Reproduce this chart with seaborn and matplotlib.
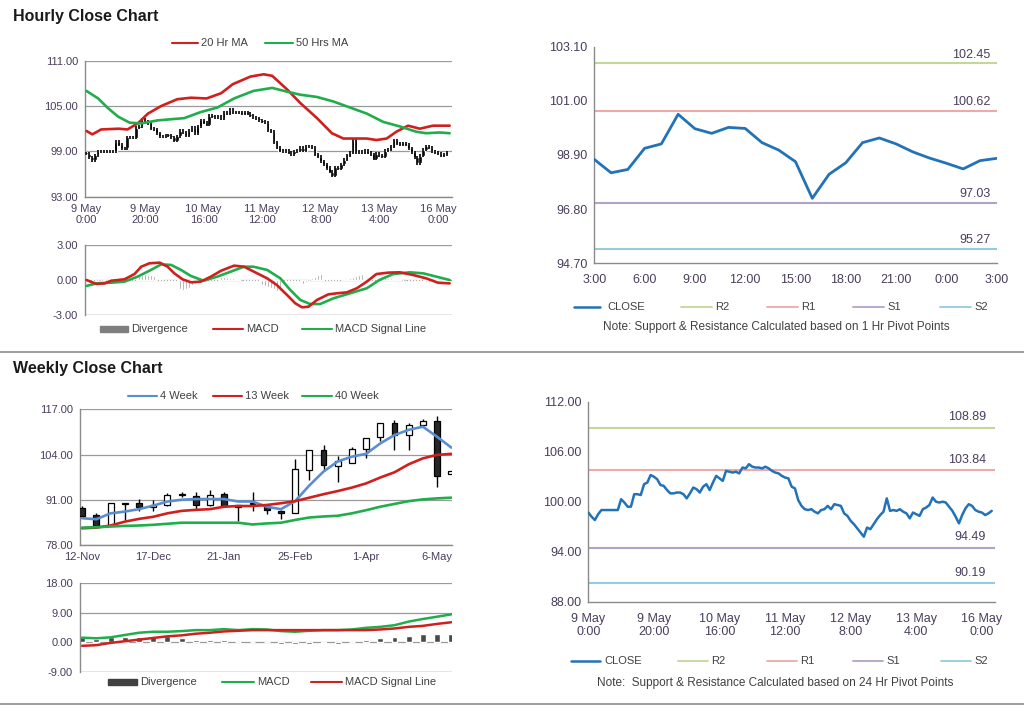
import numpy as np
import pandas as pd
import matplotlib
matplotlib.use('Agg')
import matplotlib.pyplot as plt
import seaborn as sns
from matplotlib.lines import Line2D
from matplotlib.patches import Rectangle

sns.set_theme(style='white')
plt.rcParams['font.family'] = ['Liberation Sans', 'DejaVu Sans']

# ---------------- DATA ----------------
# hourly close, 9 May 0:00 .. (124 hourly bars)
hourly_close = [98.7, 98.2, 97.8, 98.5, 99.0, 99.0, 99.0, 99.0, 99.0, 99.0,
                100.3, 99.9, 99.4, 99.4, 100.9, 100.9, 100.8, 102.1, 102.3, 103.2,
                103.0, 102.7, 102.0, 101.9, 101.4, 101.0, 101.0, 101.1, 101.1, 100.9,
                100.4, 101.0, 101.7, 101.5, 101.1, 101.8, 102.1, 101.4, 102.3, 103.1,
                102.8, 102.5, 103.7, 103.6, 103.5, 103.6, 103.4, 104.1, 104.0, 104.5,
                104.2, 104.1, 104.1, 104.0, 104.2, 104.0, 103.7, 103.5, 103.4, 103.1,
                102.9, 102.8, 101.8, 101.6, 100.2, 99.5, 99.1, 99.0, 99.1, 98.8,
                98.6, 99.0, 99.1, 99.5, 99.1, 99.7, 99.6, 99.5, 98.6, 98.3,
                97.7, 97.3, 96.8, 96.3, 95.8, 96.9, 96.7, 97.3, 97.9, 98.4,
                98.8, 100.4, 98.9, 99.0, 98.9, 99.1, 98.8, 98.6, 98.0, 98.7,
                98.5, 98.3, 99.1, 99.3, 99.6, 100.5, 100.0, 99.9, 100.0, 99.9,
                99.4, 98.9, 98.2, 97.4, 98.4, 99.2, 99.7, 99.5, 99.0, 98.8,
                98.7, 98.4, 98.6, 98.9]
hour_ticks = [0, 20, 40, 60, 80, 100, 120]
hour_tick_labels = ['9 May\n0:00', '9 May\n20:00', '10 May\n16:00', '11 May\n12:00',
                    '12 May\n8:00', '13 May\n4:00', '16 May\n0:00']

ma20_hours = [0, 2, 5, 11, 14, 17.5, 21, 25.5, 31, 35.7, 41, 46, 50, 56, 60.5, 63.4,
              68.5, 73, 78.7, 83.8, 87.7, 91, 95.7, 99, 102.5, 105.8, 109.8, 113.8, 118.3, 124]
ma20_values = [101.7, 101.25, 101.9, 102.0, 101.9, 102.7, 104.0, 105.0, 105.9, 106.1, 106.0,
               106.7, 107.9, 108.9, 109.2, 109.0, 107.2, 105.4, 103.4, 101.4, 100.7, 100.7,
               100.7, 100.5, 100.7, 101.6, 102.4, 102.0, 102.4, 102.4]
ma50_hours = [0, 4, 7.4, 10.8, 14.7, 18.7, 24.3, 33.4, 39, 44.7, 50.4, 57, 63.4, 68.5, 73,
              78.7, 84.3, 90, 95.7, 101.3, 107, 112.6, 116, 120.6, 124]
ma50_values = [107.0, 106.0, 104.7, 103.6, 102.8, 102.7, 103.1, 103.4, 104.2, 104.8, 106.0,
               107.0, 107.4, 106.9, 106.5, 106.2, 105.6, 104.8, 104.0, 102.9, 102.3, 101.6,
               101.4, 101.5, 101.4]

macd_h_hours = [0, 3.4, 6.2, 8.5, 13, 16.4, 18.7, 21.5, 25, 27.7, 30, 32.8, 35.7, 39, 42.5,
                46, 50.4, 53.8, 57.2, 61.7, 65, 68.5, 71.3, 73.6, 75.8, 78.7, 82.6, 85.5,
                88.9, 92.3, 95.7, 99, 103, 107, 111.5, 116, 120, 124]
macd_h_values = [0.0, -0.34, -0.29, -0.06, 0.06, 0.51, 1.14, 1.43, 1.49, 1.14, 0.57, 0.06,
                 -0.2, -0.14, 0.29, 0.8, 1.23, 1.14, 0.71, 0.14, -0.43, -1.29, -2.0, -2.34,
                 -2.29, -1.71, -1.23, -1.14, -1.06, -0.71, -0.14, 0.51, 0.63, 0.66, 0.43,
                 0.14, -0.23, -0.29]
signal_h_hours = [0, 3.4, 8.5, 13, 17.5, 22, 25.5, 28.9, 32.3, 35.7, 40, 44.7, 49.2, 53.8,
                  57, 61.7, 66.2, 69.6, 73, 76.4, 79.8, 84.3, 90, 95.7, 100, 104.7, 110.4,
                  115, 119.4, 124]
signal_h_values = [-0.51, -0.29, -0.23, -0.14, 0.29, 0.86, 1.34, 1.29, 0.86, 0.34, -0.06,
                   0.29, 0.71, 1.14, 1.14, 0.86, 0.14, -0.86, -1.71, -2.06, -2.06, -1.57,
                   -1.14, -0.71, 0.0, 0.51, 0.66, 0.57, 0.29, 0.0]
divergence_h = [0.3, 0.25, 0.2,
                0.05, 0, 0, -0.05, 0, 0.05, 0.05, 0.1,
                0.1, 0.15, 0.2, 0.2, 0.25, 0.3,
                0.35, 0.4, 0.45, 0.5, 0.45, 0.4, 0.35, 0.25, 0.15,
                0.05, -0.05, -0.15,
                -0.3, -0.45, -0.6, -0.75, -0.85, -0.8, -0.65, -0.45, -0.3,
                -0.15, -0.05, 0.05, 0.15,
                0.25, 0.3, 0.35, 0.35, 0.3, 0.3, 0.25, 0.2, 0.15,
                0.1, 0.05, 0.0, -0.05, -0.1,
                -0.15, -0.2, -0.3, -0.35, -0.45, -0.5, -0.6, -0.7, -0.8, -0.9, -0.95,
                -1.0, -1.0, -0.95, -0.85, -0.75, -0.6, -0.45, -0.3, -0.15, 0.0,
                0.15, 0.3, 0.4, 0.5, 0.55, 0.5, 0.45, 0.35, 0.25, 0.15,
                0.05, 0.05, 0.1, 0.15,
                0.25, 0.35, 0.45, 0.5, 0.55, 0.6, 0.55, 0.5, 0.45, 0.35, 0.3,
                0.25, 0.2, 0.15, 0.1, 0.1, 0.05, 0.0, 0.0, -0.05,
                -0.1, -0.1, -0.15, -0.15, -0.15, -0.2, -0.2, -0.15, -0.15, -0.1, -0.1, -0.1, -0.1]

# 1-hour pivot chart (last 24 hours)
pivot1_close = [98.73, 98.21, 98.34, 99.16, 99.33, 100.48, 99.92, 99.74, 99.97, 99.93,
                99.38, 99.09, 98.64, 97.22, 98.15, 98.60, 99.38, 99.56, 99.33, 99.02,
                98.78, 98.58, 98.36, 98.68, 98.77]
pivot1_tick_labels = ['3:00', '6:00', '9:00', '12:00', '15:00', '18:00', '21:00', '0:00', '3:00']
pivot_names = ['R2', 'R1', 'S1', 'S2']
pivot1_values = [102.45, 100.62, 97.03, 95.27]
pivot24_values = [108.89, 103.84, 94.49, 90.19]

# weekly candles (12-Nov .. 13-May partial)
week_tick_labels = ['12-Nov', '17-Dec', '21-Jan', '25-Feb', '1-Apr', '6-May']
weekly_open = [88.6, 86.6, 83.8, 89.7, 90.2, 88.9, 89.5, 92.7, 92.1, 89.5, 92.7, 89.2, 89.8,
               89.2, 87.5, 87.1, 99.6, 105.3, 100.7, 101.5, 105.5, 109.0, 113.2, 109.6,
               112.5, 113.7, 98.4]
weekly_high = [89.2, 87.2, 90.2, 90.1, 91.3, 91.0, 93.0, 93.1, 93.3, 93.7, 93.1, 89.6, 93.1,
               89.9, 88.0, 102.6, 105.3, 106.8, 103.6, 106.3, 108.7, 113.2, 113.9, 113.2,
               114.3, 115.1, 99.4]
weekly_low = [86.0, 83.0, 83.8, 85.2, 87.9, 87.9, 89.3, 91.7, 88.3, 89.3, 89.3, 85.0, 87.9,
              86.9, 85.5, 87.1, 96.7, 99.6, 96.2, 101.5, 103.0, 107.9, 105.3, 105.3, 111.8,
              94.6, 98.4]
weekly_close = [86.4, 83.5, 90.2, 90.0, 88.8, 89.6, 92.4, 92.4, 89.5, 92.4, 89.3, 89.0, 90.0,
                88.1, 87.3, 99.8, 105.3, 101.0, 102.1, 105.5, 108.7, 113.2, 109.5, 112.5,
                113.7, 97.8, 99.4]
ma4w = [85.7, 85.4, 87.1, 87.6, 88.3, 89.3, 90.5, 91.0, 91.2, 91.2, 91.2, 90.5, 90.5, 89.0,
        88.3, 90.6, 95.1, 99.1, 102.0, 103.4, 104.2, 107.2, 109.6, 111.1, 112.0, 109.1, 106.0]
ma13w = [82.8, 83.0, 83.6, 84.7, 85.5, 86.1, 87.1, 87.8, 88.1, 88.3, 89.0, 89.2, 89.2, 89.5,
         90.0, 90.6, 91.6, 92.6, 93.5, 94.5, 95.7, 97.4, 98.9, 101.2, 102.9, 103.9, 104.2]
ma40w = [83.0, 83.1, 83.3, 83.5, 83.6, 83.8, 84.1, 84.4, 84.4, 84.4, 84.4, 84.4, 83.9, 84.2,
         84.4, 85.2, 85.9, 86.2, 86.4, 87.1, 88.0, 89.0, 89.8, 90.6, 91.1, 91.4, 91.6]
macd_w = [1.4, 1.2, 1.5, 2.2, 2.9, 3.2, 3.2, 3.4, 3.7, 3.7, 4.0, 3.7, 4.0, 3.9, 3.4, 3.2, 3.5,
          3.7, 3.7, 3.9, 4.4, 4.7, 5.2, 6.3, 7.1, 7.8, 8.5]
signal_w = [-1.1, -0.9, -0.2, 0.3, 0.8, 1.3, 1.8, 2.1, 2.6, 2.9, 3.3, 3.5, 3.7, 3.7, 3.7, 3.7,
            3.7, 3.7, 3.7, 3.7, 3.7, 3.9, 4.2, 4.7, 5.0, 5.6, 6.1]
divergence_w = [1.5, 1.0, 1.5, 1.7, 1.7, 1.7, 1.9, 1.2, 0.7, 0.7, 0.7, 0.1, 0.1, 0.1, -0.5,
                -0.5, -0.5, -0.1, -0.4, 0.1, 0.7, 1.2, 1.5, 1.8, 2.4, 2.4, 2.4]

# ---------------- STYLE ----------------
W, H = 1024, 706
TXT = '#4a3d5c'
GRID = '#9a9a9a'
SPINE = '#8a8a8a'
RED = '#d0201e'
GREEN = '#1fae4b'
BLUE = '#2272b8'
WBLUE = '#5b8ed0'
PIV_COLORS = ['#c4d79b', '#eeaaaa', '#b3a2c7', '#93cddd']

fig = plt.figure(figsize=(W / 100, H / 100), dpi=100)
fig.patch.set_facecolor('white')


def rect(x0, y0, x1, y1):
    return [x0 / W, 1 - y1 / H, (x1 - x0) / W, (y1 - y0) / H]


def fx(x):
    return x / W


def fy(y):
    return 1 - y / H


def style_axes(ax, fs, grid=True):
    for s in ['top', 'right']:
        ax.spines[s].set_visible(False)
    for s in ['left', 'bottom']:
        ax.spines[s].set_color(SPINE)
        ax.spines[s].set_linewidth(1.0)
    ax.tick_params(axis='both', colors=SPINE, labelcolor=TXT, labelsize=fs,
                   direction='out', length=3, width=0.8, pad=2)
    if grid:
        ax.yaxis.grid(True, color=GRID, lw=0.9)
        ax.set_axisbelow(True)
    ax.set_xlabel('')
    ax.set_ylabel('')


def legend_item(x0, x1, y, color, label, kind='line', lw=1.5, fs=8, tx=None):
    if kind == 'line':
        fig.add_artist(Line2D([fx(x0), fx(x1)], [fy(y), fy(y)], color=color, lw=lw,
                              transform=fig.transFigure))
    else:
        fig.add_artist(Rectangle((fx(x0), fy(y + 3)), fx(x1 - x0), 6 / H, color=color,
                                 transform=fig.transFigure))
    fig.text(fx(tx if tx is not None else x1 + 3), fy(y), label, fontsize=fs, color='#404040',
             va='center', ha='left')


hours = np.arange(len(hourly_close))

# ---------- Panel A: hourly close candles ----------
axA = fig.add_axes(rect(85, 60.7, 452, 196.7))
opens = [hourly_close[0]] + hourly_close[:-1]
lo = np.minimum(opens, hourly_close)
hi = np.maximum(opens, hourly_close)
axA.bar(hours, np.maximum(hi - lo, 0.15), bottom=lo, width=0.9, color='black', zorder=3)
axA.vlines(hours, lo - 0.2, hi + 0.2, color='black', lw=1.2, zorder=3)
sns.lineplot(x=ma20_hours, y=ma20_values, ax=axA, color=RED, lw=1.9, zorder=4)
sns.lineplot(x=ma50_hours, y=ma50_values, ax=axA, color=GREEN, lw=1.9, zorder=4)
axA.set_ylim(93, 111)
axA.set_yticks([93, 99, 105, 111])
axA.set_yticklabels(['93.00', '99.00', '105.00', '111.00'])
axA.set_xlim(-0.5, 124.8)
axA.set_xticks(hour_ticks)
axA.set_xticklabels(hour_tick_labels, linespacing=1.15)
style_axes(axA, 8)

legend_item(172, 198, 43, RED, '20 Hr MA', fs=8)
legend_item(265, 293, 43, GREEN, '50 Hrs MA', fs=8)

# ---------- Panel B: hourly MACD ----------
axB = fig.add_axes(rect(85, 245, 452, 315))
axB.bar(hours, divergence_h, width=0.5, color='#8c8c8c', zorder=2)
sns.lineplot(x=macd_h_hours, y=macd_h_values, ax=axB, color=RED, lw=1.9, zorder=4)
sns.lineplot(x=signal_h_hours, y=signal_h_values, ax=axB, color=GREEN, lw=1.9, zorder=3)
axB.set_ylim(-3, 3)
axB.set_yticks([-3, 0, 3])
axB.set_yticklabels(['-3.00', '0.00', '3.00'])
axB.set_xlim(-0.5, 124.8)
axB.set_xticks([])
style_axes(axB, 8)
axB.spines['bottom'].set_visible(False)
axB.axhline(-3, color=GRID, lw=0.9)

legend_item(100, 128, 329, '#7f7f7f', 'Divergence', kind='patch', fs=8)
legend_item(213, 243, 329, RED, 'MACD', fs=8)
legend_item(302, 332, 329, GREEN, 'MACD Signal Line', fs=8)

# ---------- Panel C: 1 Hr pivot ----------
axC = fig.add_axes(rect(594.3, 46.7, 996.7, 263.3))
p1x = np.arange(len(pivot1_close))
for v, c in zip(pivot1_values, PIV_COLORS):
    axC.axhline(v, color=c, lw=1.5, zorder=2)
    axC.annotate(f'{v:.2f}', xy=(24, v), xytext=(-4.5, 2), textcoords='offset points',
                 ha='right', va='bottom', fontsize=9, color=TXT)
sns.lineplot(x=p1x, y=pivot1_close, ax=axC, color=BLUE, lw=2.0, zorder=3)
axC.set_ylim(94.7, 103.1)
axC.set_yticks([94.7, 96.8, 98.9, 101.0, 103.1])
axC.set_yticklabels(['94.70', '96.80', '98.90', '101.00', '103.10'])
axC.set_xlim(0, 24)
axC.set_xticks(np.arange(0, 25, 3))
axC.set_xticklabels(pivot1_tick_labels)
style_axes(axC, 9, grid=False)
axC.tick_params(axis='x', pad=5)

legend_item(574, 600, 306.7, BLUE, 'CLOSE', lw=1.8, fs=8, tx=607)
for x0, name, c in zip([681, 767, 853, 940], pivot_names, PIV_COLORS):
    legend_item(x0, x0 + 31, 306.7, c, name, lw=1.3, fs=8)
fig.text(fx(776), fy(327), 'Note: Support & Resistance Calculated based on 1 Hr Pivot Points',
         ha='center', va='center', fontsize=8.5, color='#404040')

# ---------- Panel D: weekly candles ----------
axD = fig.add_axes(rect(80, 409.3, 452, 545))
weeks = np.arange(len(weekly_close))
wo, wc = np.array(weekly_open), np.array(weekly_close)
up = wc >= wo
axD.vlines(weeks, weekly_low, weekly_high, color='black', lw=1.0, zorder=3)
axD.bar(weeks[up], np.maximum(wc[up] - wo[up], 0.4), bottom=wo[up], width=0.42,
        color='white', edgecolor='black', lw=0.9, zorder=4)
axD.bar(weeks[~up], np.maximum(wo[~up] - wc[~up], 0.4), bottom=wc[~up], width=0.42,
        color='#262626', edgecolor='black', lw=0.9, zorder=4)
sns.lineplot(x=weeks, y=ma4w, ax=axD, color=WBLUE, lw=1.9, zorder=5)
sns.lineplot(x=weeks, y=ma13w, ax=axD, color=RED, lw=1.9, zorder=5)
sns.lineplot(x=weeks, y=ma40w, ax=axD, color=GREEN, lw=1.9, zorder=5)
axD.set_ylim(78, 117)
axD.set_yticks([78, 91, 104, 117])
axD.set_yticklabels(['78.00', '91.00', '104.00', '117.00'])
axD.set_xlim(-0.15, 26.05)
axD.set_xticks([0, 5, 10, 15, 20, 25])
axD.set_xticklabels(week_tick_labels)
style_axes(axD, 8)

legend_item(128, 157, 396, WBLUE, '4 Week', fs=8)
legend_item(213, 242, 396, RED, '13 Week', fs=8)
legend_item(302, 332, 396, GREEN, '40 Week', fs=8)

# ---------- Panel E: weekly MACD ----------
axE = fig.add_axes(rect(80, 583.3, 452, 671.7))
axE.bar(weeks, divergence_w, width=0.42, color='#4a4a4a', zorder=2)
sns.lineplot(x=weeks, y=macd_w, ax=axE, color=GREEN, lw=1.8, zorder=3)
sns.lineplot(x=weeks, y=signal_w, ax=axE, color=RED, lw=1.8, zorder=4)
axE.set_ylim(-9, 18)
axE.set_yticks([-9, 0, 9, 18])
axE.set_yticklabels(['-9.00', '0.00', '9.00', '18.00'])
axE.set_xlim(-0.15, 26.05)
axE.set_xticks([])
style_axes(axE, 8)
axE.spines['bottom'].set_visible(False)
axE.axhline(-9, color=GRID, lw=0.9)

legend_item(108, 137, 682.3, '#404040', 'Divergence', kind='patch', fs=8)
legend_item(222, 254, 682.3, GREEN, 'MACD', fs=8)
legend_item(311, 342, 682.3, RED, 'MACD Signal Line', fs=8)

# ---------- Panel F: 24 Hr pivot ----------
axF = fig.add_axes(rect(588.3, 401.7, 995, 601.7))
for v, c in zip(pivot24_values, PIV_COLORS):
    axF.axhline(v, color=c, lw=1.5, zorder=2)
    axF.annotate(f'{v:.2f}', xy=(124, v), xytext=(-6.5, 3), textcoords='offset points',
                 ha='right', va='bottom', fontsize=9, color=TXT)
sns.lineplot(x=hours, y=hourly_close, ax=axF, color=BLUE, lw=1.8, zorder=3)
axF.set_ylim(88, 112)
axF.set_yticks([88, 94, 100, 106, 112])
axF.set_yticklabels(['88.00', '94.00', '100.00', '106.00', '112.00'])
axF.set_xlim(0, 124)
axF.set_xticks(hour_ticks)
axF.set_xticklabels(hour_tick_labels, linespacing=1.15)
style_axes(axF, 9, grid=False)
axF.tick_params(axis='x', pad=5)

legend_item(571, 600, 660.7, BLUE, 'CLOSE', lw=1.8, fs=8, tx=604)
for x0, name, c in zip([678, 767, 853, 941], pivot_names, PIV_COLORS):
    legend_item(x0, x0 + 30, 660.7, c, name, lw=1.3, fs=8)
fig.text(fx(775), fy(683), 'Note:  Support & Resistance Calculated based on 24 Hr Pivot Points',
         ha='center', va='center', fontsize=8.5, color='#404040')

# ---------- titles & separators ----------
fig.text(fx(13), fy(16), 'Hourly Close Chart', fontsize=11.5, fontweight='bold',
         color='#1a1a1a', va='center', ha='left')
fig.text(fx(13), fy(369), 'Weekly Close Chart', fontsize=11.5, fontweight='bold',
         color='#1a1a1a', va='center', ha='left')
fig.add_artist(Line2D([0, 1], [fy(352), fy(352)], color='#8c8c8c', lw=1.2,
                      transform=fig.transFigure))
fig.add_artist(Line2D([0, 1], [fy(704), fy(704)], color='#8c8c8c', lw=1.2,
                      transform=fig.transFigure))

fig.savefig('out.png', dpi=100, facecolor='white')
